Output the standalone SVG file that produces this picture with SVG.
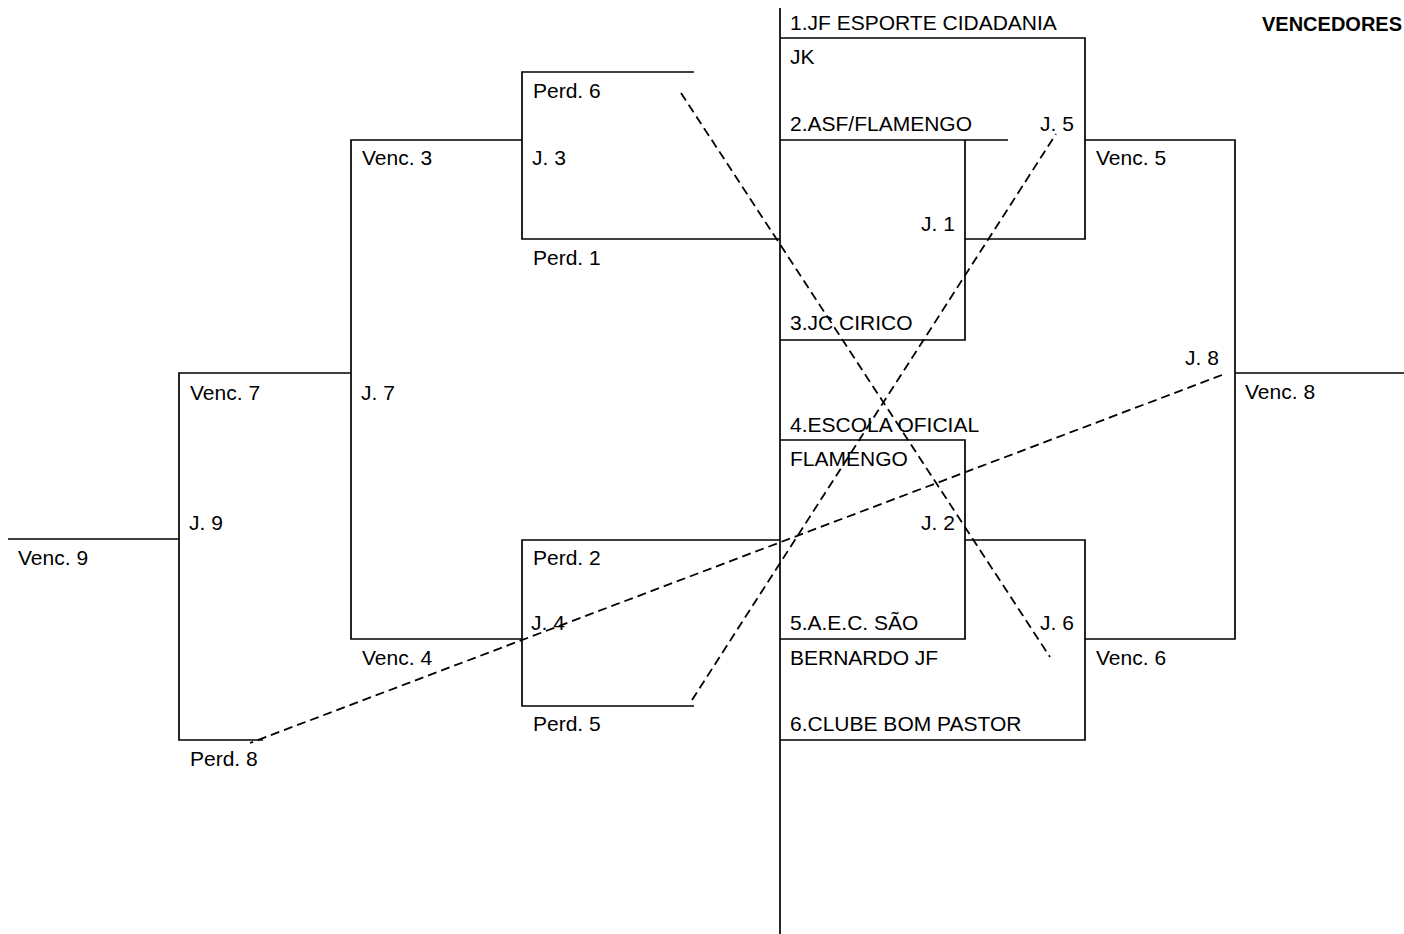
<svg xmlns="http://www.w3.org/2000/svg" width="1404" height="934" viewBox="0 0 1404 934">
<style>
text{font-family:"Liberation Sans",Arial,sans-serif;font-size:21px;fill:#000}
.b{font-weight:bold;font-size:20px}
.s{fill:none;stroke:#000;stroke-width:1.7}
.d{fill:none;stroke:#000;stroke-width:1.8;stroke-dasharray:9,5}
</style>
<rect width="1404" height="934" fill="#fff"/>
<g id="connectors">
<path class="s" d="M780,8V934"/>
<path class="s" d="M780,38H1085V239H965"/>
<path class="s" d="M780,140H1008"/>
<path class="s" d="M965,140V340H780"/>
<path class="s" d="M1085,140H1235V639H1085"/>
<path class="s" d="M1235,373H1404"/>
<path class="s" d="M780,440H965V639H780"/>
<path class="s" d="M965,540H1085V740H780"/>
<path class="s" d="M694,72H522V239H780"/>
<path class="s" d="M522,140H351V639H522"/>
<path class="s" d="M780,540H522V706H694"/>
<path class="s" d="M351,373H179V740H263"/>
<path class="s" d="M8,539H179"/>
<path class="d" d="M681,93L1050,657"/>
<path class="d" d="M692,700L1056,134"/>
<path class="d" d="M1222,375L250,743"/>
</g>
<g id="title"><text class="b" x="1262" y="31">VENCEDORES</text></g>
<g id="teams">
<text x="790" y="30">1.JF ESPORTE CIDADANIA</text>
<text x="790" y="64">JK</text>
<text x="790" y="131">2.ASF/FLAMENGO</text>
<text x="790" y="330">3.JC CIRICO</text>
<text x="790" y="432">4.ESCOLA OFICIAL</text>
<text x="790" y="466">FLAMENGO</text>
<text x="790" y="630">5.A.E.C. SÃO</text>
<text x="790" y="665">BERNARDO JF</text>
<text x="790" y="731">6.CLUBE BOM PASTOR</text>
</g>
<g id="game-j1"><text x="921" y="231">J. 1</text></g>
<g id="game-j2"><text x="921" y="530">J. 2</text></g>
<g id="game-j5"><text x="1040" y="131">J. 5</text><text x="1096" y="165">Venc. 5</text></g>
<g id="game-j6"><text x="1040" y="630">J. 6</text><text x="1096" y="665">Venc. 6</text></g>
<g id="game-j8"><text x="1185" y="365">J. 8</text><text x="1245" y="399">Venc. 8</text></g>
<g id="game-j3"><text x="533" y="98">Perd. 6</text><text x="532" y="165">J. 3</text><text x="533" y="265">Perd. 1</text><text x="362" y="165">Venc. 3</text></g>
<g id="game-j4"><text x="533" y="565">Perd. 2</text><text x="531" y="630">J. 4</text><text x="533" y="731">Perd. 5</text><text x="362" y="665">Venc. 4</text></g>
<g id="game-j7"><text x="361" y="400">J. 7</text><text x="190" y="400">Venc. 7</text></g>
<g id="game-j9"><text x="189" y="530">J. 9</text><text x="18" y="565">Venc. 9</text><text x="190" y="766">Perd. 8</text></g>
</svg>
